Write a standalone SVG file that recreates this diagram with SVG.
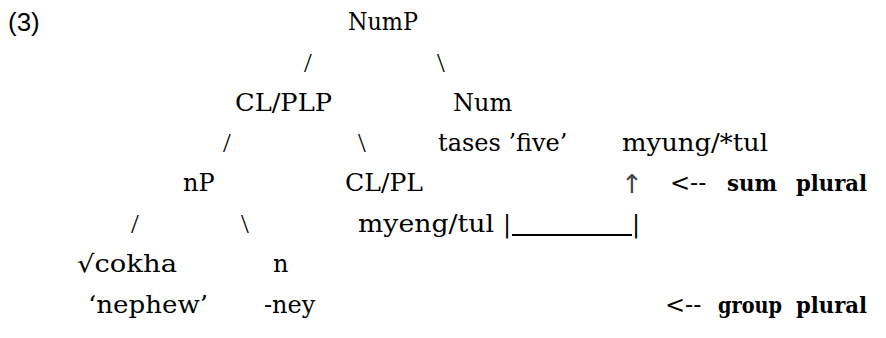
<svg xmlns="http://www.w3.org/2000/svg" width="886" height="338" viewBox="0 0 886 338">
<style>
text{font-family:"DejaVu Serif","Liberation Serif",serif;font-size:24px;fill:#000}
.sans{font-family:"Liberation Sans","DejaVu Sans",sans-serif;font-size:26px}
.b{font-weight:bold;font-size:23px}
.sl{font-family:"Liberation Serif","DejaVu Serif",serif;font-size:28px}
.arr{fill:#444;font-size:26px;font-family:"DejaVu Sans",sans-serif}
</style>
<rect width="886" height="338" fill="#fff"/>
<g id="label"><text class="sans" x="8" y="31">(3)</text></g>
<g id="NumP"><text x="348" y="30" textLength="70" lengthAdjust="spacingAndGlyphs">NumP</text></g>
<g id="CLPLP"><text x="235" y="111" textLength="97" lengthAdjust="spacingAndGlyphs">CL/PLP</text></g>
<g id="Num"><text x="453" y="111">Num</text><text x="438" y="151">tases ’five’</text></g>
<g id="myung"><text x="622" y="151" textLength="146" lengthAdjust="spacingAndGlyphs">myung/*tul</text></g>
<g id="nP"><text x="183" y="191">nP</text></g>
<g id="CLPL"><text x="345" y="191" textLength="78" lengthAdjust="spacingAndGlyphs">CL/PL</text><text x="358" y="232" textLength="136" lengthAdjust="spacingAndGlyphs">myeng/tul</text><text x="503" y="232">|</text></g>
<g id="root"><text x="77" y="272" textLength="100" lengthAdjust="spacingAndGlyphs">√cokha</text><text x="88" y="313" textLength="120" lengthAdjust="spacingAndGlyphs">‘nephew’</text></g>
<g id="n"><text x="273" y="272">n</text><text x="264" y="313">-ney</text></g>
<g id="sum"><text x="670" y="191">&lt;--</text><text class="b" x="727" y="191" textLength="50" lengthAdjust="spacingAndGlyphs">sum</text><text class="b" x="796" y="191" textLength="71" lengthAdjust="spacingAndGlyphs">plural</text></g>
<g id="group"><text x="665" y="313">&lt;--</text><text class="b" x="718" y="313" textLength="64" lengthAdjust="spacingAndGlyphs">group</text><text class="b" x="796" y="313" textLength="71" lengthAdjust="spacingAndGlyphs">plural</text></g>
<g id="connectors">
<text class="sl" x="304" y="72">/</text><text class="sl" x="437" y="72">\</text>
<text class="sl" x="223" y="152">/</text><text class="sl" x="358" y="152">\</text>
<text class="sl" x="131" y="233">/</text><text class="sl" x="241" y="233">\</text>
<text class="arr" x="621" y="193">↑</text>
<line x1="512" y1="235" x2="632" y2="235" stroke="#000" stroke-width="2"/>
<text x="632" y="232">|</text>
</g>
</svg>
